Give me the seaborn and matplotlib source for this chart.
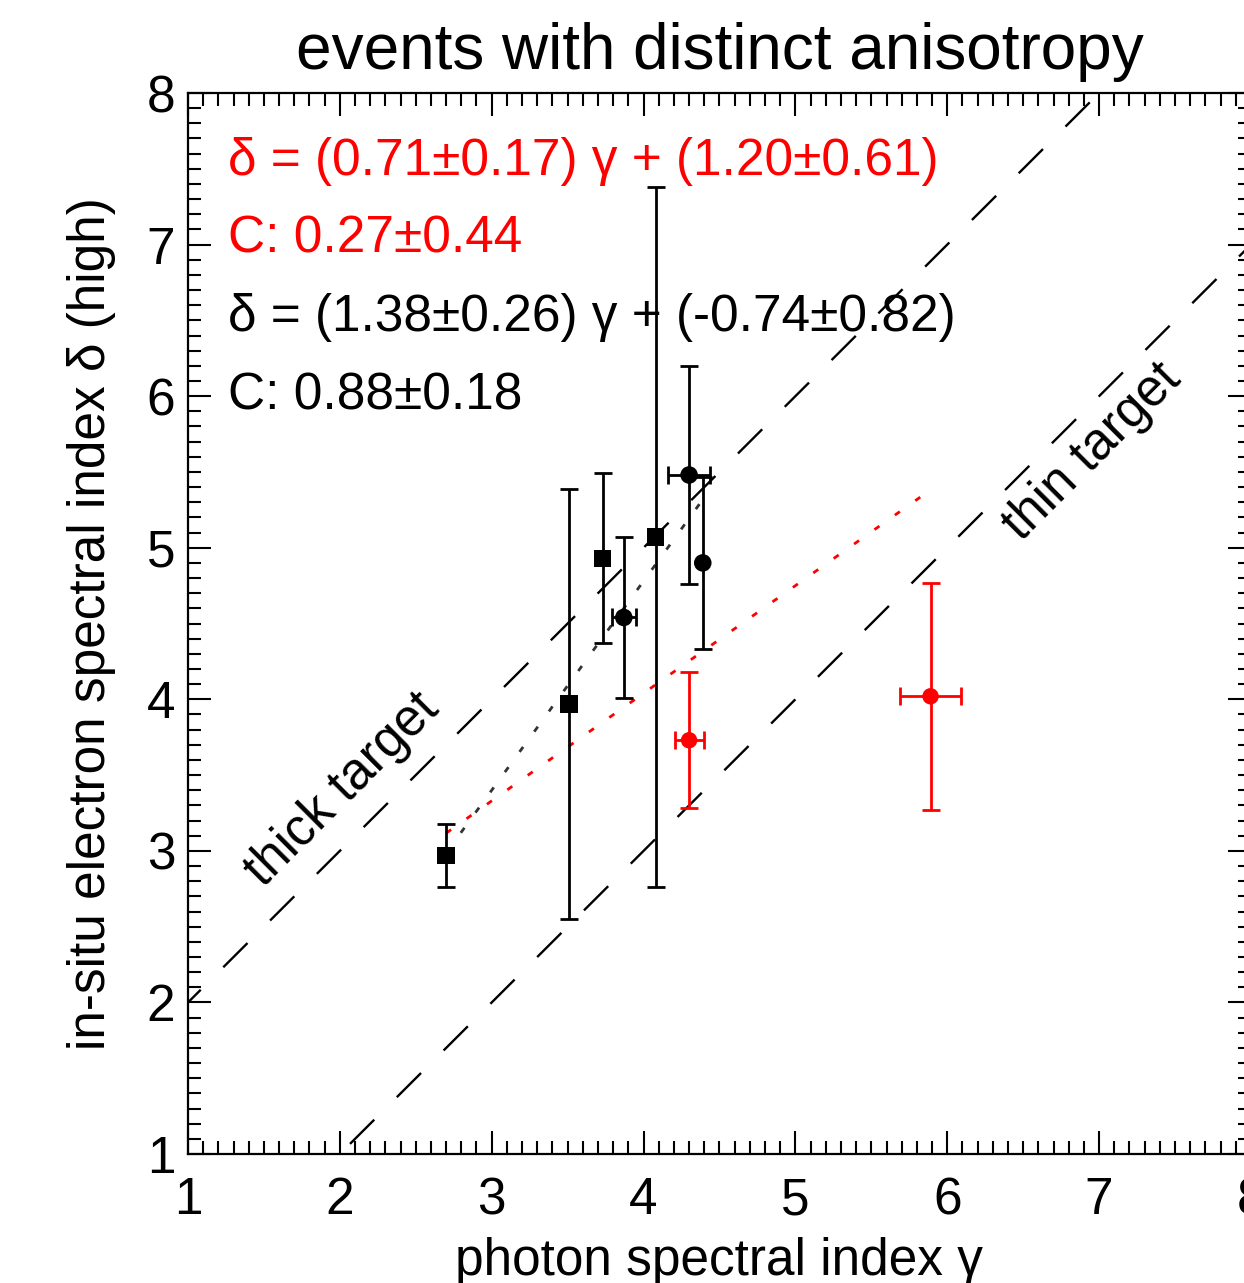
import numpy as np
import pandas as pd
import matplotlib
matplotlib.use("Agg")
import matplotlib.pyplot as plt
import seaborn as sns
from matplotlib.ticker import MultipleLocator

# ---- data -------------------------------------------------------------
# events fitted with the black relation
gamma_blk = [2.70, 3.51, 3.73, 3.87, 4.08, 4.30, 4.39]
gamma_blk_err = [0.0, 0.0, 0.0, 0.08, 0.0, 0.14, 0.0]
delta_blk = [2.97, 3.97, 4.93, 4.54, 5.07, 5.48, 4.90]
delta_blk_err = [0.21, 1.42, 0.56, 0.53, 2.31, 0.72, 0.57]
shape_blk = ["s", "s", "s", "o", "s", "o", "o"]

# additional events (red)
gamma_red = [4.30, 5.89]
gamma_red_err = [0.095, 0.20]
delta_red = [3.73, 4.02]
delta_red_err = [0.45, 0.75]

# linear fits  delta = a * gamma + b
fit_red_a, fit_red_b = 0.71, 1.20
fit_blk_a, fit_blk_b = 1.38, -0.74

fit_red_text = "δ = (0.71±0.17) γ + (1.20±0.61)"
corr_red_text = "C: 0.27±0.44"
fit_blk_text = "δ = (1.38±0.26) γ + (-0.74±0.82)"
corr_blk_text = "C: 0.88±0.18"

title_text = "events with distinct anisotropy"
xlabel_text = "photon spectral index γ"
ylabel_text = "in-situ electron spectral index δ (high)"

# ---- style ------------------------------------------------------------
sns.set_theme(style="ticks")
plt.rcParams["font.family"] = ["Liberation Sans", "DejaVu Sans"]
plt.rcParams["axes.linewidth"] = 1.6
for key in ["text.color", "axes.labelcolor", "xtick.color", "ytick.color",
            "axes.edgecolor"]:
    plt.rcParams[key] = "black"

RED = "#ff0000"
FS = 37

fig = plt.figure(figsize=(12.44, 12.83), dpi=100)
ax = fig.add_axes([0.1511, 0.1005, 0.8545, 0.8270])
ax.set_xlim(1, 8)
ax.set_ylim(1, 8)

# thick / thin target reference lines
ref = pd.DataFrame({"gamma": [0.0, 9.0]})
ref["thick"] = ref["gamma"] + 1
ref["thin"] = ref["gamma"] - 1
for col in ["thick", "thin"]:
    sns.lineplot(data=ref, x="gamma", y=col, ax=ax, color="black", lw=1.7,
                 dashes=False, zorder=1)
for line in ax.lines:
    line.set_dashes([14.5, 13.5])

# fitted relations (dotted)
all_gamma = gamma_blk + gamma_red
g_red = np.array([min(all_gamma), max(all_gamma)])
g_blk = np.array([min(gamma_blk), max(gamma_blk)])
fit_red = pd.DataFrame({"gamma": g_red, "delta": fit_red_a * g_red + fit_red_b})
fit_blk = pd.DataFrame({"gamma": g_blk, "delta": fit_blk_a * g_blk + fit_blk_b})
n0 = len(ax.lines)
sns.lineplot(data=fit_red, x="gamma", y="delta", ax=ax, color=RED, lw=2.0, zorder=2)
sns.lineplot(data=fit_blk, x="gamma", y="delta", ax=ax, color="#333333", lw=2.0, zorder=2)
for line in ax.lines[n0:]:
    line.set_dashes([2.2, 6.8])

# error bars
ekw = dict(fmt="none", elinewidth=2.0, capsize=6.5, capthick=2.0, zorder=3)
ax.errorbar(gamma_blk, delta_blk, yerr=delta_blk_err, ecolor="black", **ekw)
gx = [g for g, e in zip(gamma_blk, gamma_blk_err) if e > 0]
dx = [d for d, e in zip(delta_blk, gamma_blk_err) if e > 0]
ex = [e for e in gamma_blk_err if e > 0]
ax.errorbar(gx, dx, xerr=ex, ecolor="black", **ekw)
ax.errorbar(gamma_red, delta_red, yerr=delta_red_err, xerr=gamma_red_err,
            ecolor=RED, **ekw)

# markers
pts_blk = pd.DataFrame({"gamma": gamma_blk, "delta": delta_blk, "shape": shape_blk})
sns.scatterplot(data=pts_blk, x="gamma", y="delta", style="shape",
                markers={"s": "s", "o": "o"}, color="black", s=160,
                edgecolor="none", legend=False, ax=ax, zorder=4)
pts_red = pd.DataFrame({"gamma": gamma_red, "delta": delta_red})
sns.scatterplot(data=pts_red, x="gamma", y="delta", marker="o", color=RED,
                s=140, edgecolor="none", legend=False, ax=ax, zorder=4)

# annotations
ax.text(1.263, 7.459, fit_red_text, color=RED, fontsize=FS, va="baseline")
ax.text(1.263, 6.945, corr_red_text, color=RED, fontsize=FS, va="baseline")
ax.text(1.263, 6.430, fit_blk_text, color="black", fontsize=FS, va="baseline")
ax.text(1.263, 5.915, corr_blk_text, color="black", fontsize=FS, va="baseline")
ax.text(2.015, 3.40, "thick target", fontsize=FS, rotation=45,
        rotation_mode="anchor", ha="center", va="center")
ax.text(6.955, 5.63, "thin target", fontsize=FS, rotation=45,
        rotation_mode="anchor", ha="center", va="center")

# axes cosmetics
ax.set_title(title_text, fontsize=46, pad=17)
ax.set_xlabel(xlabel_text, fontsize=FS)
ax.set_ylabel(ylabel_text, fontsize=FS)
ax.xaxis.set_label_coords(0.5, -0.078)
ax.xaxis.label.set_va("top")
ax.yaxis.set_label_coords(-0.068, 0.5)

ax.xaxis.set_major_locator(MultipleLocator(1))
ax.yaxis.set_major_locator(MultipleLocator(1))
ax.xaxis.set_minor_locator(MultipleLocator(0.1))
ax.yaxis.set_minor_locator(MultipleLocator(0.1))
ax.tick_params(which="both", direction="in", top=True, right=True,
               color="black", width=1.5)
ax.tick_params(which="major", length=16.5)
ax.tick_params(which="minor", length=9.5)
ax.tick_params(axis="x", which="major", labelsize=FS, pad=16)
ax.tick_params(axis="y", which="major", labelsize=FS, pad=9)
for sp in ax.spines.values():
    sp.set_visible(True)
    sp.set_color("black")

fig.savefig("out.png", dpi=100)
